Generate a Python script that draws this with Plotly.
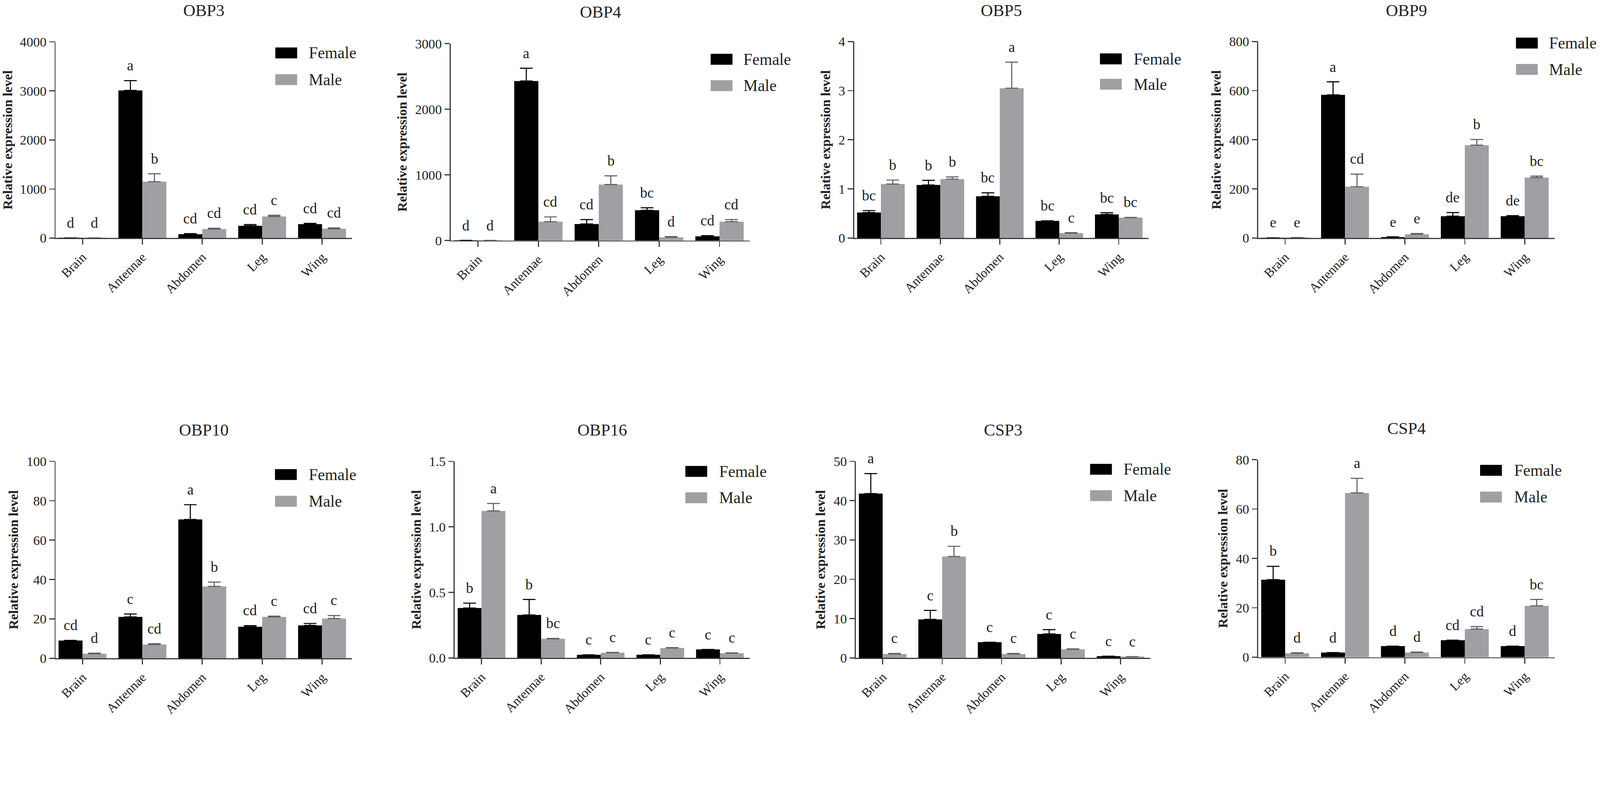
import plotly.graph_objects as go

# ---------------- data ----------------
categories = ["Brain", "Antennae", "Abdomen", "Leg", "Wing"]
genes = ["OBP3", "OBP4", "OBP5", "OBP9", "OBP10", "OBP16", "CSP3", "CSP4"]

obp3_female = [2, 3010, 80, 250, 285]
obp3_female_err = [0, 200, 10, 25, 15]
obp3_male = [2, 1150, 185, 440, 190]
obp3_male_err = [0, 160, 15, 25, 15]
obp3_female_letters = ["d", "a", "cd", "cd", "cd"]
obp3_male_letters = ["d", "b", "cd", "c", "cd"]

obp4_female = [2, 2430, 252, 461, 64]
obp4_female_err = [0, 195, 67, 38, 10]
obp4_male = [2, 287, 853, 49, 287]
obp4_male_err = [0, 73, 133, 12, 32]
obp4_female_letters = ["d", "a", "cd", "bc", "cd"]
obp4_male_letters = ["d", "cd", "b", "d", "cd"]

obp5_female = [0.52, 1.08, 0.85, 0.35, 0.48]
obp5_female_err = [0.04, 0.095, 0.07, 0.0, 0.035]
obp5_male = [1.1, 1.2, 3.05, 0.1, 0.415]
obp5_male_err = [0.08, 0.045, 0.53, 0.01, 0.005]
obp5_female_letters = ["bc", "b", "bc", "bc", "bc"]
obp5_male_letters = ["b", "b", "a", "c", "bc"]

obp9_female = [1, 583, 4, 89, 89]
obp9_female_err = [0, 53, 1, 15, 2]
obp9_male = [2, 209, 15.5, 378, 246]
obp9_male_err = [0, 51, 3, 23, 6]
obp9_female_letters = ["e", "a", "e", "de", "de"]
obp9_male_letters = ["e", "cd", "e", "b", "bc"]

obp10_female = [9.0, 21.0, 70.5, 16.0, 16.7]
obp10_female_err = [0.1, 1.5, 7.5, 0.6, 1.0]
obp10_male = [2.3, 7.0, 36.5, 21.0, 20.2]
obp10_male_err = [0.3, 0.4, 2.2, 0.4, 1.5]
obp10_female_letters = ["cd", "c", "a", "cd", "cd"]
obp10_male_letters = ["d", "cd", "b", "c", "c"]

obp16_female = [0.381, 0.328, 0.024, 0.024, 0.065]
obp16_female_err = [0.037, 0.118, 0.0, 0.0, 0.0]
obp16_male = [1.122, 0.146, 0.04, 0.076, 0.036]
obp16_male_err = [0.057, 0.003, 0.002, 0.003, 0.003]
obp16_female_letters = ["b", "b", "c", "c", "c"]
obp16_male_letters = ["a", "bc", "c", "c", "c"]

csp3_female = [41.8, 9.8, 4.0, 6.1, 0.45]
csp3_female_err = [5.1, 2.3, 0.0, 1.1, 0.0]
csp3_male = [1.0, 25.8, 1.0, 2.2, 0.35]
csp3_male_err = [0.15, 2.6, 0.15, 0.1, 0.0]
csp3_female_letters = ["a", "c", "c", "c", "c"]
csp3_male_letters = ["c", "b", "c", "c", "c"]

csp4_female = [31.4, 1.9, 4.5, 6.9, 4.5]
csp4_female_err = [5.4, 0.0, 0.0, 0.0, 0.0]
csp4_male = [1.6, 66.5, 1.9, 11.4, 20.8]
csp4_male_err = [0.2, 5.9, 0.2, 1.0, 2.6]
csp4_female_letters = ["b", "d", "d", "cd", "d"]
csp4_male_letters = ["d", "a", "d", "cd", "bc"]

y_max = [4000, 3000, 4, 800, 100, 1.5, 50, 80]
y_dtick = [1000, 1000, 1, 200, 20, 0.5, 10, 20]
y_tickformat = ["", "", "", "", "", ".1f", "", ""]

female_data = [obp3_female, obp4_female, obp5_female, obp9_female,
               obp10_female, obp16_female, csp3_female, csp4_female]
female_err = [obp3_female_err, obp4_female_err, obp5_female_err, obp9_female_err,
              obp10_female_err, obp16_female_err, csp3_female_err, csp4_female_err]
male_data = [obp3_male, obp4_male, obp5_male, obp9_male,
             obp10_male, obp16_male, csp3_male, csp4_male]
male_err = [obp3_male_err, obp4_male_err, obp5_male_err, obp9_male_err,
            obp10_male_err, obp16_male_err, csp3_male_err, csp4_male_err]
female_letters = [obp3_female_letters, obp4_female_letters, obp5_female_letters,
                  obp9_female_letters, obp10_female_letters, obp16_female_letters,
                  csp3_female_letters, csp4_female_letters]
male_letters = [obp3_male_letters, obp4_male_letters, obp5_male_letters,
                obp9_male_letters, obp10_male_letters, obp16_male_letters,
                csp3_male_letters, csp4_male_letters]

# ---------------- layout / style ----------------
W, H = 4550, 2048
FONT = "Liberation Serif"
FEMALE_COLOR = "#000000"
MALE_COLOR = "#a0a0a4"
MALE_ERR_COLOR = "#5e5e62"
AXIS_COLOR = "#3a3a3a"
TEXT_COLOR = "#222222"

# panel boxes in pixels: (left, right, top, bottom)
panels = [
    (158, 1001, 119, 677),
    (1282, 2132, 124, 684),
    (2429, 3266, 118, 677),
    (3578, 4421, 118, 677),
    (158, 1001, 1312, 1872),
    (1293, 2132, 1312, 1871),
    (2434, 3271, 1312, 1871),
    (3578, 4421, 1307, 1869),
]
# legend placement relative to panel (px): square left, female top, male top, text left
legend_pos = [
    (625, 16, 92, 718),
    (739, 29, 104, 830),
    (699, 34, 106, 793),
    (733, -11, 64, 825),
    (624, 22, 98, 718),
    (656, 13, 88, 750),
    (666, 7, 82, 759),
    (631, 15, 91, 726),
]
SQ_W, SQ_H = 62, 31
TITLE_OFFSET = 90

fig = go.Figure()
annotations = []
shapes = []
layout_axes = {}

for i in range(8):
    n = i + 1
    xa = "x" if n == 1 else f"x{n}"
    ya = "y" if n == 1 else f"y{n}"
    l, r, t, b = panels[i]
    pw, ph = r - l, b - t

    fig.add_trace(go.Bar(
        x=categories, y=female_data[i], name="Female",
        marker=dict(color=FEMALE_COLOR, line=dict(width=0)),
        error_y=dict(type="data", array=female_err[i], arrayminus=[0] * 5,
                     symmetric=False, color=FEMALE_COLOR, thickness=3, width=18),
        xaxis=xa, yaxis=ya, showlegend=False, hoverinfo="skip"))
    fig.add_trace(go.Bar(
        x=categories, y=male_data[i], name="Male",
        marker=dict(color=MALE_COLOR, line=dict(width=0)),
        error_y=dict(type="data", array=male_err[i], arrayminus=[0] * 5,
                     symmetric=False, color=MALE_ERR_COLOR, thickness=3, width=18),
        xaxis=xa, yaxis=ya, showlegend=False, hoverinfo="skip"))

    xkey = "xaxis" if n == 1 else f"xaxis{n}"
    ykey = "yaxis" if n == 1 else f"yaxis{n}"
    layout_axes[xkey] = dict(
        domain=[l / W, r / W], anchor=ya, type="category",
        range=[-0.45, 4.5], showline=True, linecolor=AXIS_COLOR, linewidth=3,
        ticks="outside", ticklen=15, tickwidth=3, tickcolor=AXIS_COLOR,
        tickangle=-45, showgrid=False, zeroline=False,
        tickfont=dict(family=FONT, size=37, color=TEXT_COLOR), automargin=False)
    layout_axes[ykey] = dict(
        domain=[1 - b / H, 1 - t / H], anchor=xa,
        range=[0, y_max[i]], dtick=y_dtick[i], tick0=0,
        tickformat=y_tickformat[i],
        showline=True, linecolor=AXIS_COLOR, linewidth=3,
        ticks="outside", ticklen=15, tickwidth=3, tickcolor=AXIS_COLOR,
        showgrid=False, zeroline=False,
        tickfont=dict(family=FONT, size=38, color=TEXT_COLOR), automargin=False,
        title=dict(text="Relative expression level", standoff=12,
                   font=dict(family=FONT, size=38, color=TEXT_COLOR, weight="bold")))

    # panel title
    annotations.append(dict(
        text=genes[i], xref=f"{xa} domain", yref=f"{ya} domain",
        x=0.5, y=1 + TITLE_OFFSET / ph, xanchor="center", yanchor="middle",
        showarrow=False, font=dict(family=FONT, size=48, color=TEXT_COLOR)))

    # significance letters
    for j in range(5):
        for k, (vals, errs, lets) in enumerate([
                (female_data[i], female_err[i], female_letters[i]),
                (male_data[i], male_err[i], male_letters[i])]):
            annotations.append(dict(
                text=lets[j], xref=xa, yref=ya,
                x=j - 0.2 + 0.4 * k, y=vals[j] + errs[j],
                xanchor="center", yanchor="bottom", yshift=18,
                showarrow=False, font=dict(family=FONT, size=42, color=TEXT_COLOR)))

    # legend (custom swatches)
    sq_l, f_t, m_t, tx_l = legend_pos[i]
    for top, color, label in [(f_t, FEMALE_COLOR, "Female"), (m_t, MALE_COLOR, "Male")]:
        shapes.append(dict(
            type="rect", xref=f"{xa} domain", yref=f"{ya} domain",
            x0=sq_l / pw, x1=(sq_l + SQ_W) / pw,
            y0=1 - (top + SQ_H) / ph, y1=1 - top / ph,
            fillcolor=color, line=dict(width=0)))
        annotations.append(dict(
            text=label, xref=f"{xa} domain", yref=f"{ya} domain",
            x=tx_l / pw, y=1 - (top + SQ_H / 2) / ph,
            xanchor="left", yanchor="middle", showarrow=False,
            font=dict(family=FONT, size=46, color=TEXT_COLOR)))

fig.update_layout(
    width=W, height=H, margin=dict(l=0, r=0, t=0, b=0),
    paper_bgcolor="white", plot_bgcolor="white",
    barmode="group", bargap=0.2, bargroupgap=0,
    annotations=annotations, shapes=shapes,
    font=dict(family=FONT, color=TEXT_COLOR),
    **layout_axes)

fit_script = (
    "document.documentElement.style.margin='0';"
    "document.body.style.margin='0';"
    "document.body.style.overflow='hidden';"
    "var gd=document.getElementById('{plot_id}');"
    "var s=Math.min(window.innerWidth/%d, window.innerHeight/%d);"
    "if(s<0.999||s>1.001){gd.style.transformOrigin='0 0';gd.style.transform='scale('+s+')';}"
) % (W, H)

fig.write_html("out.html", config={"displayModeBar": False}, post_script=fit_script)
